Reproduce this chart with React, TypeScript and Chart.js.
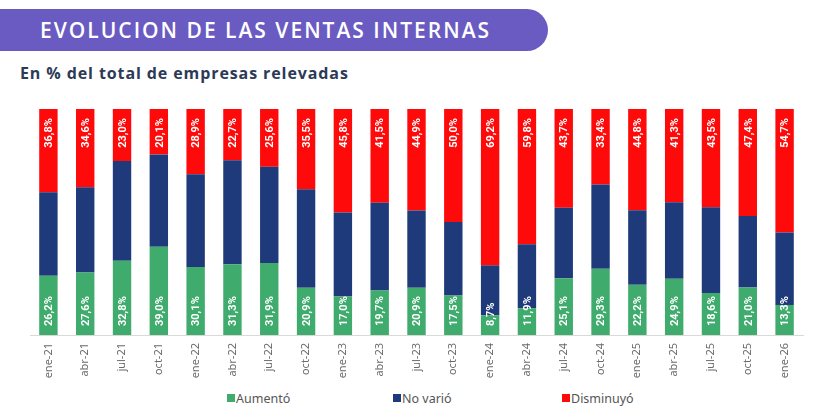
import React, { useEffect, useRef } from "react";
import { Chart, registerables } from "chart.js";

Chart.register(...registerables);

const periods = [
  "ene-21", "abr-21", "jul-21", "oct-21", "ene-22", "abr-22", "jul-22", "oct-22",
  "ene-23", "abr-23", "jul-23", "oct-23", "ene-24", "abr-24", "jul-24", "oct-24",
  "ene-25", "abr-25", "jul-25", "oct-25", "ene-26",
];
const aumento = [26.2, 27.6, 32.8, 39.0, 30.1, 31.3, 31.9, 20.9, 17.0, 19.7, 20.9, 17.5, 8.7, 11.9, 25.1, 29.3, 22.2, 24.9, 18.6, 21.0, 13.3];
const noVario = [37.0, 37.8, 44.2, 40.9, 41.0, 46.0, 42.5, 43.6, 37.2, 38.8, 34.2, 32.5, 22.1, 28.3, 31.2, 37.3, 33.0, 33.8, 37.9, 31.6, 32.0];
const disminuyo = [36.8, 34.6, 23.0, 20.1, 28.9, 22.7, 25.6, 35.5, 45.8, 41.5, 44.9, 50.0, 69.2, 59.8, 43.7, 33.4, 44.8, 41.3, 43.5, 47.4, 54.7];

const GREEN = "#3fab6d";
const NAVY = "#1f3a7a";
const RED = "#fe0a0a";

const fmt = (v: number) => v.toFixed(1).replace(".", ",") + "%";

// rotated labels: green ones sit at the base, red ones at the top of the bar
const barLabels = {
  id: "barLabels",
  afterDatasetsDraw(chart: any) {
    const ctx = chart.ctx;
    ctx.save();
    ctx.fillStyle = "#ffffff";
    ctx.font = "bold 11px Roboto";
    ctx.textBaseline = "middle";
    chart.data.datasets.forEach((ds: any, i: number) => {
      if (i === 1) return;
      const meta = chart.getDatasetMeta(i);
      meta.data.forEach((bar: any, j: number) => {
        const top = Math.min(bar.y, bar.base);
        const bottom = Math.max(bar.y, bar.base);
        ctx.save();
        if (i === 0) {
          ctx.translate(bar.x, bottom - 9);
          ctx.rotate(-Math.PI / 2);
          ctx.textAlign = "left";
        } else {
          ctx.translate(bar.x, top + 9);
          ctx.rotate(-Math.PI / 2);
          ctx.textAlign = "right";
        }
        ctx.fillText(fmt(ds.data[j]), 0, 1);
        ctx.restore();
      });
    });
    ctx.restore();
  },
};

function SalesChart() {
  const canvasRef = useRef<HTMLCanvasElement>(null);

  useEffect(() => {
    const chart = new Chart(canvasRef.current as HTMLCanvasElement, {
      type: "bar",
      data: {
        labels: periods,
        datasets: [
          { label: "Aumentó", data: aumento, backgroundColor: GREEN },
          { label: "No varió", data: noVario, backgroundColor: NAVY },
          { label: "Disminuyó", data: disminuyo, backgroundColor: RED },
        ],
      },
      options: {
        animation: false,
        responsive: true,
        maintainAspectRatio: false,
        layout: { padding: { top: 14, left: 30, right: 19, bottom: 0 } },
        datasets: { bar: { barPercentage: 0.5, categoryPercentage: 1 } },
        plugins: {
          legend: { display: false },
          tooltip: { enabled: false },
        },
        scales: {
          x: {
            stacked: true,
            grid: { display: false, drawTicks: false },
            border: { display: true, color: "#d9d9d9" },
            ticks: {
              color: "#6b6b6b",
              font: { family: "Noto Sans", size: 11 },
              minRotation: 90,
              maxRotation: 90,
              padding: 8,
              autoSkip: false,
            },
            afterFit: (s: any) => {
              s.height = 55;
            },
          },
          y: {
            stacked: true,
            display: false,
            min: 0,
            max: 100,
          },
        },
      },
      plugins: [barLabels],
    } as any);
    return () => chart.destroy();
  }, []);

  return <canvas ref={canvasRef}></canvas>;
}

const legendItems = [
  { label: "Aumentó", color: GREEN, x: 227 },
  { label: "No varió", color: NAVY, x: 393 },
  { label: "Disminuyó", color: RED, x: 562 },
];

export default function App() {
  return (
    <div
      style={{
        position: "fixed",
        left: 0,
        top: 0,
        width: 822,
        height: 414,
        background: "#ffffff",
        fontFamily: "'Open Sans', sans-serif",
        overflow: "hidden",
      }}
    >
      <div
        style={{
          position: "absolute",
          left: 0,
          top: 9,
          width: 548,
          height: 42,
          background: "#6a5bc2",
          borderRadius: "0 21px 21px 0",
        }}
      />
      <div
        style={{
          position: "absolute",
          left: 40,
          top: 9,
          height: 42,
          lineHeight: "42px",
          color: "#ffffff",
          fontSize: 21,
          fontWeight: 600,
          letterSpacing: 2,
          whiteSpace: "nowrap",
        }}
      >
        EVOLUCION DE LAS VENTAS INTERNAS
      </div>
      <div
        style={{
          position: "absolute",
          left: 20,
          top: 62,
          color: "#2d3a56",
          fontSize: 16,
          fontWeight: 700,
          letterSpacing: 0.9,
          whiteSpace: "nowrap",
        }}
      >
        En % del total de empresas relevadas
      </div>
      <div style={{ position: "absolute", left: 0, top: 95, width: 822, height: 295 }}>
        <SalesChart />
      </div>
      {legendItems.map((it) => (
        <div
          key={it.label}
          style={{
            position: "absolute",
            left: it.x,
            top: 390,
            height: 16,
            display: "flex",
            alignItems: "center",
            fontFamily: "'Noto Sans', sans-serif",
            fontSize: 12.5,
            color: "#555555",
            whiteSpace: "nowrap",
          }}
        >
          <span style={{ width: 8, height: 8, background: it.color, marginRight: 1, display: "inline-block" }} />
          {it.label}
        </div>
      ))}
    </div>
  );
}
